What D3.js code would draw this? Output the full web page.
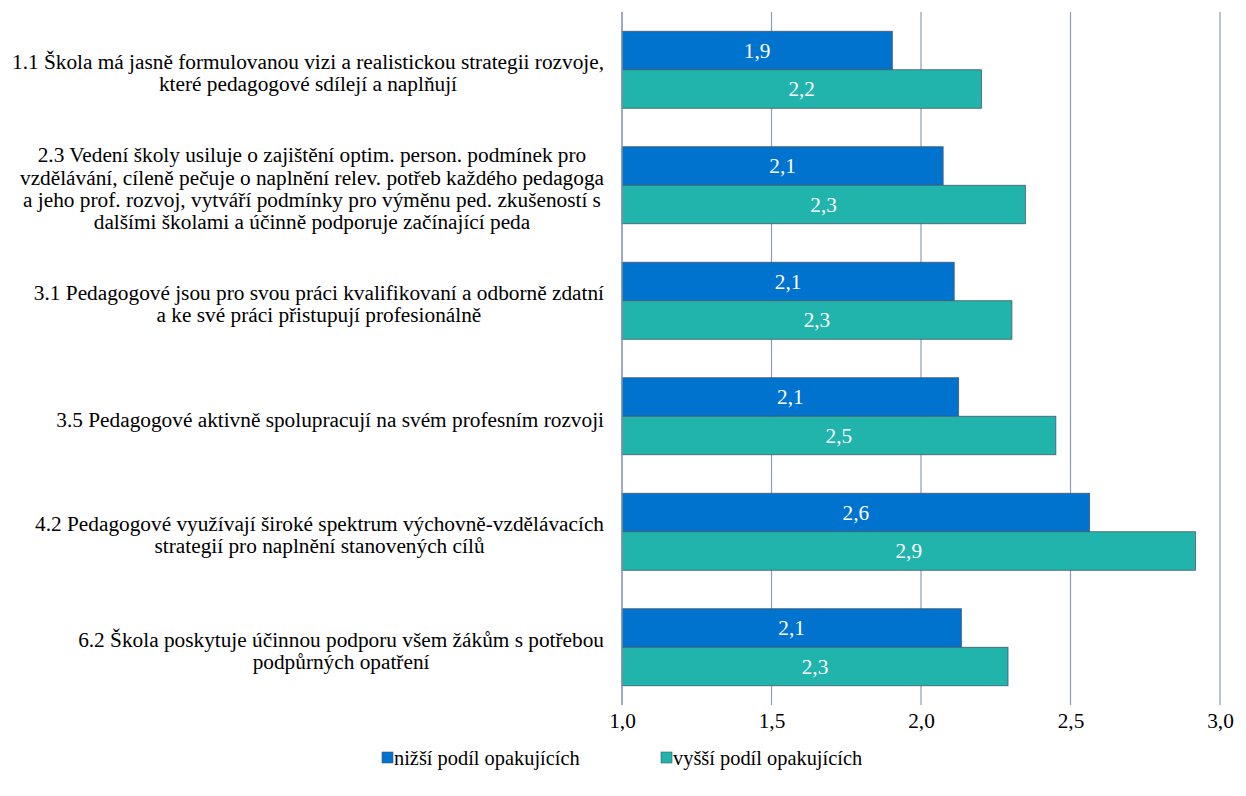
<!DOCTYPE html>
<html>
<head>
<meta charset="utf-8">
<script src="https://cdn.jsdelivr.net/npm/d3@7"></script>
<style>
  html, body { margin: 0; padding: 0; background: #fff; }
  svg { display: block; }
  svg text { font-family: 'Liberation Serif', 'Times New Roman', serif; }
</style>
</head>
<body>
<svg id="chart" width="1246" height="796"></svg>
<script>
const categories = [
  "1.1 Škola má jasně formulovanou vizi a realistickou strategii rozvoje,|které pedagogové sdílejí a naplňují",
  "2.3 Vedení školy usiluje o zajištění optim. person. podmínek pro|vzdělávání, cíleně pečuje o naplnění relev. potřeb každého pedagoga|a jeho prof. rozvoj, vytváří podmínky pro výměnu ped. zkušeností s|dalšími školami a účinně podporuje začínající peda",
  "3.1 Pedagogové jsou pro svou práci kvalifikovaní a odborně zdatní|a ke své práci přistupují profesionálně",
  "3.5 Pedagogové aktivně spolupracují na svém profesním rozvoji",
  "4.2 Pedagogové využívají široké spektrum výchovně-vzdělávacích|strategií pro naplnění stanovených cílů",
  "6.2 Škola poskytuje účinnou podporu všem žákům s potřebou|podpůrných opatření"
];
const seriesNames = ["nižší podíl opakujících", "vyšší podíl opakujících"];
const lowerShare = [1.904, 2.074, 2.111, 2.126, 2.564, 2.135];
const higherShare = [2.202, 2.349, 2.304, 2.451, 2.918, 2.291];
const xTicks = [1.0, 1.5, 2.0, 2.5, 3.0];
const colors = ["#0073CF", "#20B4AD"];

(function () {
const svg = d3.select("#chart");
const mLeft = 622, mRight = 1220, mTop = 12, mBottom = 705;
const fontSize = 21.3;
const legendFont = 20.4;
const FF = "'Liberation Serif', 'Times New Roman', serif";

const x = d3.scaleLinear().domain([1, 3]).range([mLeft, mRight]);
const y = d3.scaleBand().domain(d3.range(categories.length)).range([mTop, mBottom])
  .paddingInner(1/3).paddingOuter(1/6);
const ySub = d3.scaleBand().domain([0, 1]).range([0, y.bandwidth()]);
const fmt = v => d3.format(".1f")(v).replace(".", ",");

// gridlines
svg.append("g").selectAll("line").data(xTicks).join("line")
  .attr("x1", d => x(d)).attr("x2", d => x(d))
  .attr("y1", mTop).attr("y2", mBottom)
  .attr("stroke", "#8C9DB8").attr("stroke-width", 1.2);

// x axis labels via d3 axis
const xAxis = d3.axisBottom(x).tickValues(xTicks).tickFormat(fmt).tickSize(0).tickPadding(0);
const gx = svg.append("g").attr("transform", `translate(0,${mBottom + 3})`).call(xAxis);
gx.attr("font-family", null).attr("font-size", null);
gx.select(".domain").remove();
gx.selectAll("text").style("font-family", FF).style("font-size", fontSize + "px")
  .attr("fill", "#000").attr("dy", "0.95em");

// bars
const data = [lowerShare, higherShare];
data.forEach((vals, si) => {
  const g = svg.append("g");
  g.selectAll("rect").data(vals).join("rect")
    .attr("x", x(1))
    .attr("y", (d, i) => y(i) + ySub(si))
    .attr("width", d => x(d) - x(1))
    .attr("height", ySub.bandwidth())
    .attr("fill", colors[si])
    .attr("stroke", "#44596E").attr("stroke-width", 0.8);
  g.selectAll("text").data(vals).join("text")
    .attr("x", d => (x(1) + x(d)) / 2)
    .attr("y", (d, i) => y(i) + ySub(si) + ySub.bandwidth() / 2)
    .attr("dy", "0.35em")
    .attr("text-anchor", "middle")
    .style("font-family", FF).style("font-size", fontSize + "px")
    .attr("fill", "#fff")
    .text(d => fmt(d));
});

// left axis line
svg.append("line").attr("x1", x(1)).attr("x2", x(1)).attr("y1", mTop).attr("y2", mBottom)
  .attr("stroke", "#8C9DB8").attr("stroke-width", 1.2);

// category labels
const lineH = 22.3;
const labelRight = 604;
categories.forEach((c, i) => {
  const lines = c.split("|");
  const g = svg.append("g");
  const texts = g.selectAll("text").data(lines).join("text")
    .style("font-family", FF).style("font-size", fontSize + "px")
    .attr("fill", "#000").attr("text-anchor", "middle")
    .text(d => d);
  let maxW = 0;
  texts.each(function() { maxW = Math.max(maxW, this.getComputedTextLength()); });
  const cx = labelRight - maxW / 2;
  const cy = y(i) + y.bandwidth() / 2 + 3;
  texts.attr("x", cx)
    .attr("y", (d, j) => cy + (j - (lines.length - 1) / 2) * lineH)
    .attr("dy", "0.35em");
});

// legend
const legendY = 758;
const legendX = [382, 661];
seriesNames.forEach((n, i) => {
  svg.append("rect").attr("x", legendX[i]).attr("y", legendY - 6).attr("width", 11).attr("height", 11)
    .attr("fill", colors[i]).attr("stroke", "#44596E").attr("stroke-width", 0.6);
  svg.append("text").attr("x", legendX[i] + 12).attr("y", legendY).attr("dy", "0.35em")
    .style("font-family", FF).style("font-size", legendFont + "px")
    .attr("fill", "#000").text(n);
});
})();
</script>
</body>
</html>
